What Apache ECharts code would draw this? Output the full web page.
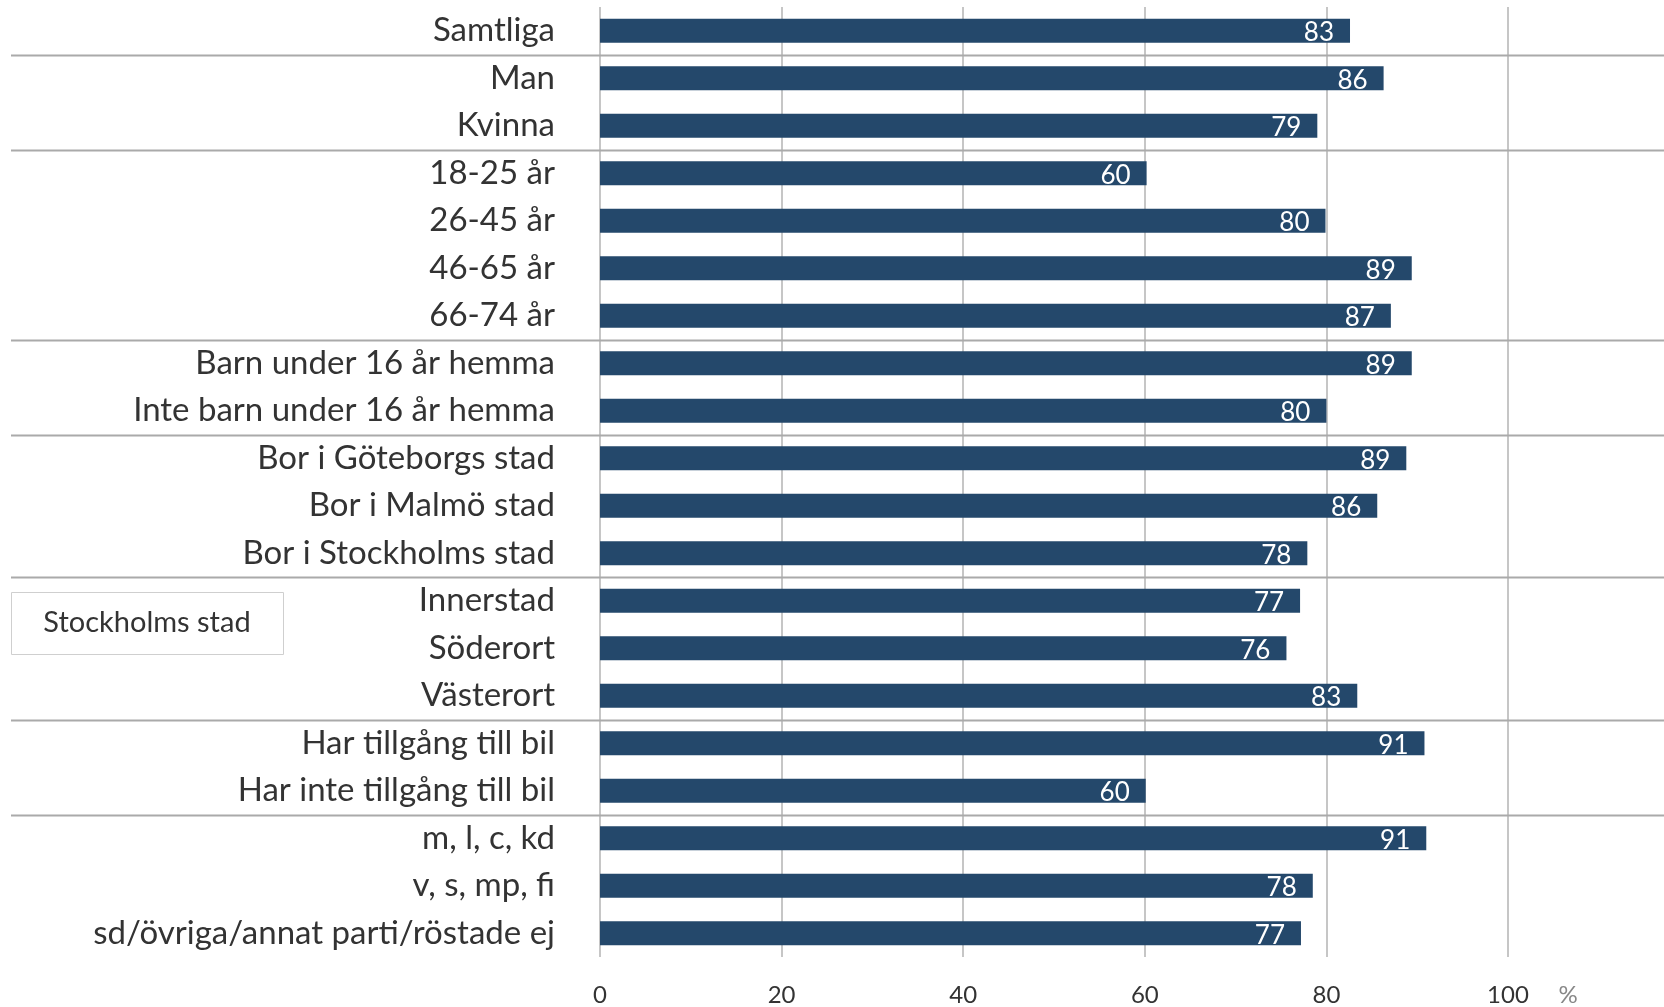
<!DOCTYPE html>
<html>
<head>
<meta charset="utf-8">
<script src="https://cdn.jsdelivr.net/npm/echarts@6/dist/echarts.min.js"></script>
<style>
  html, body { margin: 0; padding: 0; background: #fff; }
  #chart { width: 1664px; height: 1007px; }
</style>
</head>
<body>
<div id="chart"></div>
<script>
// kategorier uppifrån och ner
const categories = [
  'Samtliga', 'Man', 'Kvinna',
  '18-25 år', '26-45 år', '46-65 år', '66-74 år',
  'Barn under 16 år hemma', 'Inte barn under 16 år hemma',
  'Bor i Göteborgs stad', 'Bor i Malmö stad', 'Bor i Stockholms stad',
  'Innerstad', 'Söderort', 'Västerort',
  'Har tillgång till bil', 'Har inte tillgång till bil',
  'm, l, c, kd', 'v, s, mp, fi', 'sd/övriga/annat parti/röstade ej'
];
const values = [82.6, 86.3, 79, 60.2, 79.9, 89.4, 87.1, 89.4, 80, 88.8, 85.6, 77.9, 77.1, 75.6, 83.4, 90.8, 60.1, 91, 78.5, 77.2];
const valueLabels = [83, 86, 79, 60, 80, 89, 87, 89, 80, 89, 86, 78, 77, 76, 83, 91, 60, 91, 78, 77];
const xTicks = [0, 20, 40, 60, 80, 100];
// index för sista raden i varje grupp (linje under)
const groupEnds = [0, 2, 6, 8, 11, 14, 16];
const boxText = 'Stockholms stad';
const unitText = '%';

const FONT = 'Lato, "Open Sans", sans-serif';
const chart = echarts.init(document.getElementById('chart'));

const option = {
  animation: false,
  grid: { left: 600, right: 156, top: 7, bottom: 50 },
  xAxis: {
    type: 'value',
    min: 0,
    max: 100,
    interval: 20,
    axisLine: { show: false },
    axisTick: { show: false },
    axisLabel: {
      margin: 26,
      color: '#333',
      fontSize: 24,
      fontFamily: FONT,
      formatter: v => xTicks.indexOf(v) >= 0 ? String(v) : ''
    },
    splitLine: { lineStyle: { color: '#c6c6c6', width: 2 } }
  },
  yAxis: {
    type: 'category',
    inverse: true,
    data: categories,
    axisLine: { show: false },
    axisTick: { show: false },
    axisLabel: {
      margin: 45,
      color: '#333',
      fontSize: 33,
      fontFamily: FONT
    }
  },
  series: [{
    type: 'bar',
    data: values,
    barWidth: 24,
    itemStyle: { color: '#24486b' },
    label: {
      show: true,
      position: 'insideRight',
      distance: 16,
      color: '#fff',
      fontSize: 26,
      fontFamily: FONT,
      offset: [0, 2],
      formatter: p => String(valueLabels[p.dataIndex])
    }
  }]
};
chart.setOption(option);

// grupplinjer och textruta, placerade via axlarnas skalor
function drawExtras() {
  const top = chart.convertToPixel({ yAxisIndex: 0 }, 0);
  const next = chart.convertToPixel({ yAxisIndex: 0 }, 1);
  const band = next - top;
  const rightEdge = chart.getWidth();
  const elements = groupEnds.map(i => {
    const y = Math.round(chart.convertToPixel({ yAxisIndex: 0 }, i) + band / 2) + 0.5;
    return {
      type: 'line',
      shape: { x1: 11, y1: y, x2: rightEdge, y2: y },
      style: { stroke: '#aaaaaa', lineWidth: 2 },
      z: 10
    };
  });
  // ruta mellan Innerstad och Söderort
  const yBox = chart.convertToPixel({ yAxisIndex: 0 }, 12) + band / 2 - 2;
  elements.push({
    type: 'rect',
    shape: { x: 11.5, y: Math.round(yBox - 31) + 0.5, width: 272, height: 62 },
    style: { fill: '#fff', stroke: '#cfcfcf', lineWidth: 1 }
  });
  elements.push({
    type: 'text',
    x: 147, y: yBox,
    style: {
      text: boxText, fill: '#333', font: '29px ' + FONT,
      align: 'center', verticalAlign: 'middle'
    }
  });
  const x100 = chart.convertToPixel({ xAxisIndex: 0 }, 100);
  const yAxisBottom = chart.convertToPixel({ yAxisIndex: 0 }, categories.length - 1) + band / 2;
  elements.push({
    type: 'text',
    x: x100 + 60, y: yAxisBottom + 38,
    style: {
      text: unitText, fill: '#888', font: '24px ' + FONT,
      align: 'center', verticalAlign: 'middle'
    }
  });
  chart.setOption({ graphic: { elements: elements } });
}
drawExtras();

window.addEventListener('resize', () => { chart.resize(); drawExtras(); });
</script>
</body>
</html>
